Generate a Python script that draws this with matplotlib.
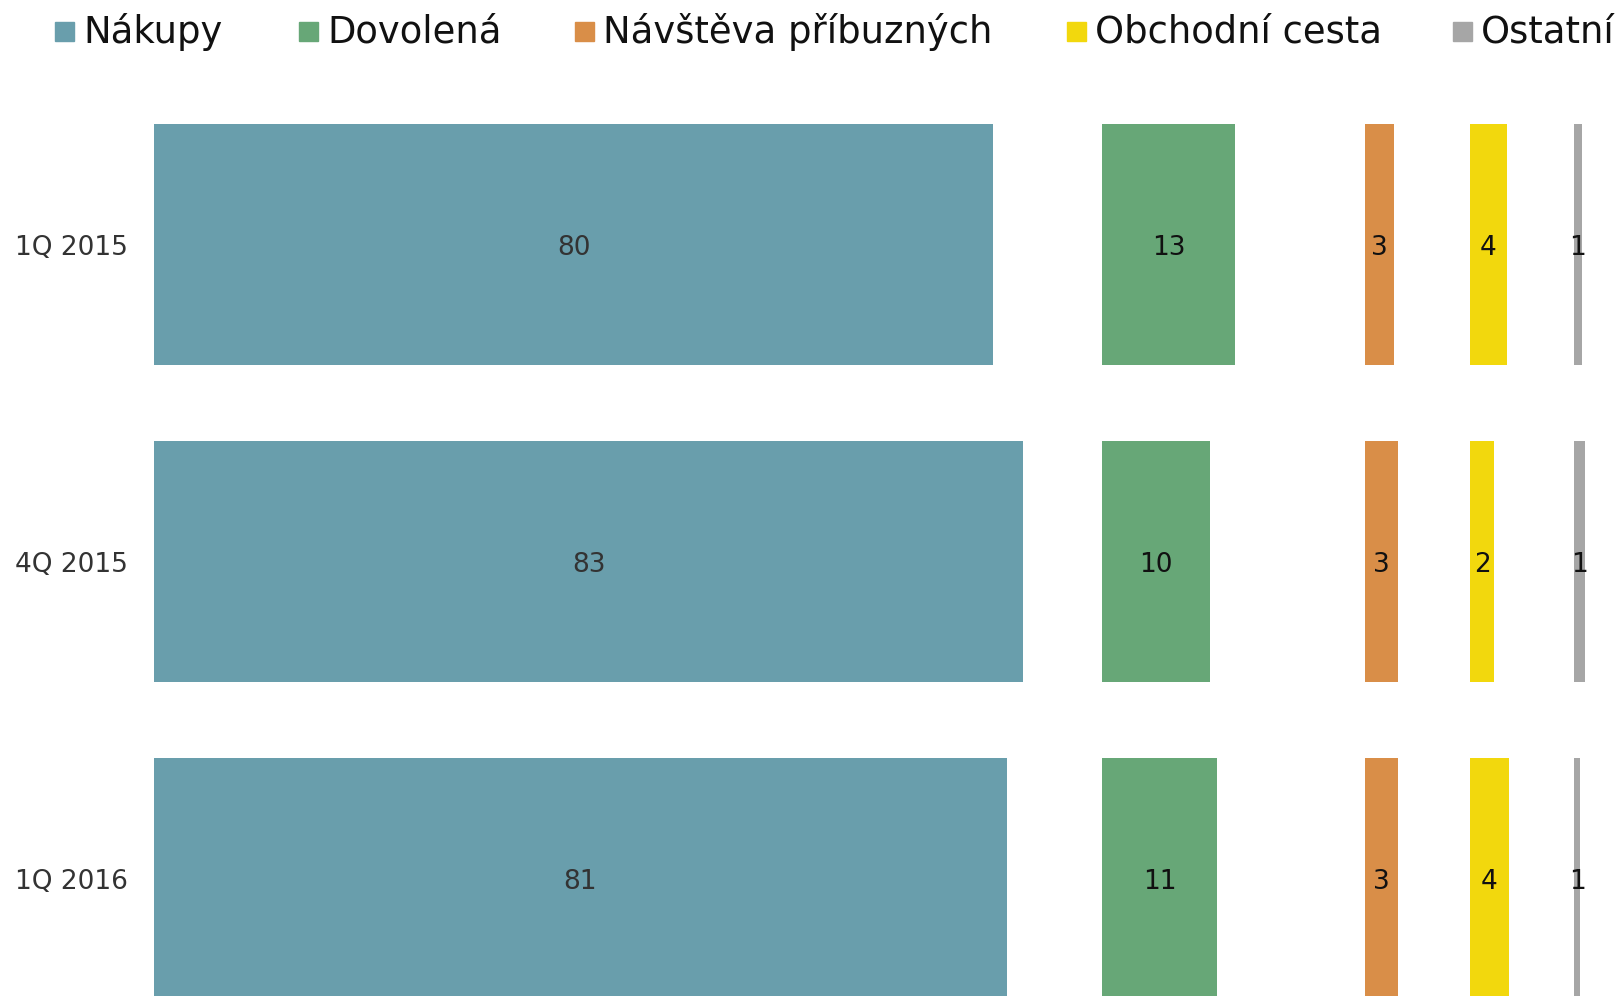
import matplotlib
matplotlib.use("Agg")
import matplotlib.pyplot as plt
from matplotlib.patches import Rectangle

# ---- data ----
periods = ["1Q 2015", "4Q 2015", "1Q 2016"]
series_names = ["Nákupy", "Dovolená", "Návštěva příbuzných", "Obchodní cesta", "Ostatní"]
nakupy = [80.1, 83.0, 81.4]
dovolena = [12.7, 10.3, 11.0]
navsteva = [2.8, 3.2, 3.2]
obchodni = [3.5, 2.3, 3.7]
ostatni = [0.7, 1.0, 0.6]
series_values = [nakupy, dovolena, navsteva, obchodni, ostatni]
colors = ["#699EAC", "#67A777", "#D98E48", "#F2D80D", "#A6A6A6"]

W, H = 1624, 996
fig = plt.figure(figsize=(W / 100, H / 100), dpi=100)
plt.rcParams['font.family'] = ['DejaVu Sans']

k = 10.47  # pixels per unit (common scale)
# panel layout in pixels: (left, width)
panels = [(154.3, 900), (1102.0, 220), (1364.8, 90), (1470.0, 90), (1574.2, 48)]
top_px = 80
pitch = 317.0
row0_center = 244.5
y_top = -(row0_center - top_px) / pitch
y_bot = (len(periods) - 1) + (H - (row0_center + pitch * (len(periods) - 1))) / pitch

ypos = list(range(len(periods)))
for i, (vals, col, (left, width)) in enumerate(zip(series_values, colors, panels)):
    ax = fig.add_axes([left / W, 0, width / W, (H - top_px) / H])
    ax.set_facecolor("none")
    ax.barh(ypos, vals, height=0.763, color=col, edgecolor="none")
    ax.set_xlim(0, width / k)
    ax.set_ylim(y_bot, y_top)
    for s in ax.spines.values():
        s.set_visible(False)
    ax.set_xticks([])
    if i == 0:
        ax.set_yticks(ypos)
        ax.set_yticklabels(periods, fontsize=19, color="#333333")
        ax.tick_params(axis="y", length=0, pad=19.0)
    else:
        ax.set_yticks([])
    txtcol = "#333333" if i == 0 else "#111111"
    for y, v in zip(ypos, vals):
        ax.text(v / 2, y, f"{v:.0f}", ha="center", va="center_baseline",
                fontsize=19, color=txtcol)

# legend
sq_x = [55, 299, 575, 1067, 1453]
leg_y = 32
sq = 19
for x, name, col in zip(sq_x, series_names, colors):
    fig.patches.append(Rectangle((x / W, 1 - (leg_y + sq / 2) / H), sq / W, sq / H,
                                 transform=fig.transFigure, color=col))
    fig.text((x + sq + 9) / W, 1 - leg_y / H, name, fontsize=26.6,
             color="#111111", ha="left", va="center")

fig.savefig("out.png", dpi=100)
